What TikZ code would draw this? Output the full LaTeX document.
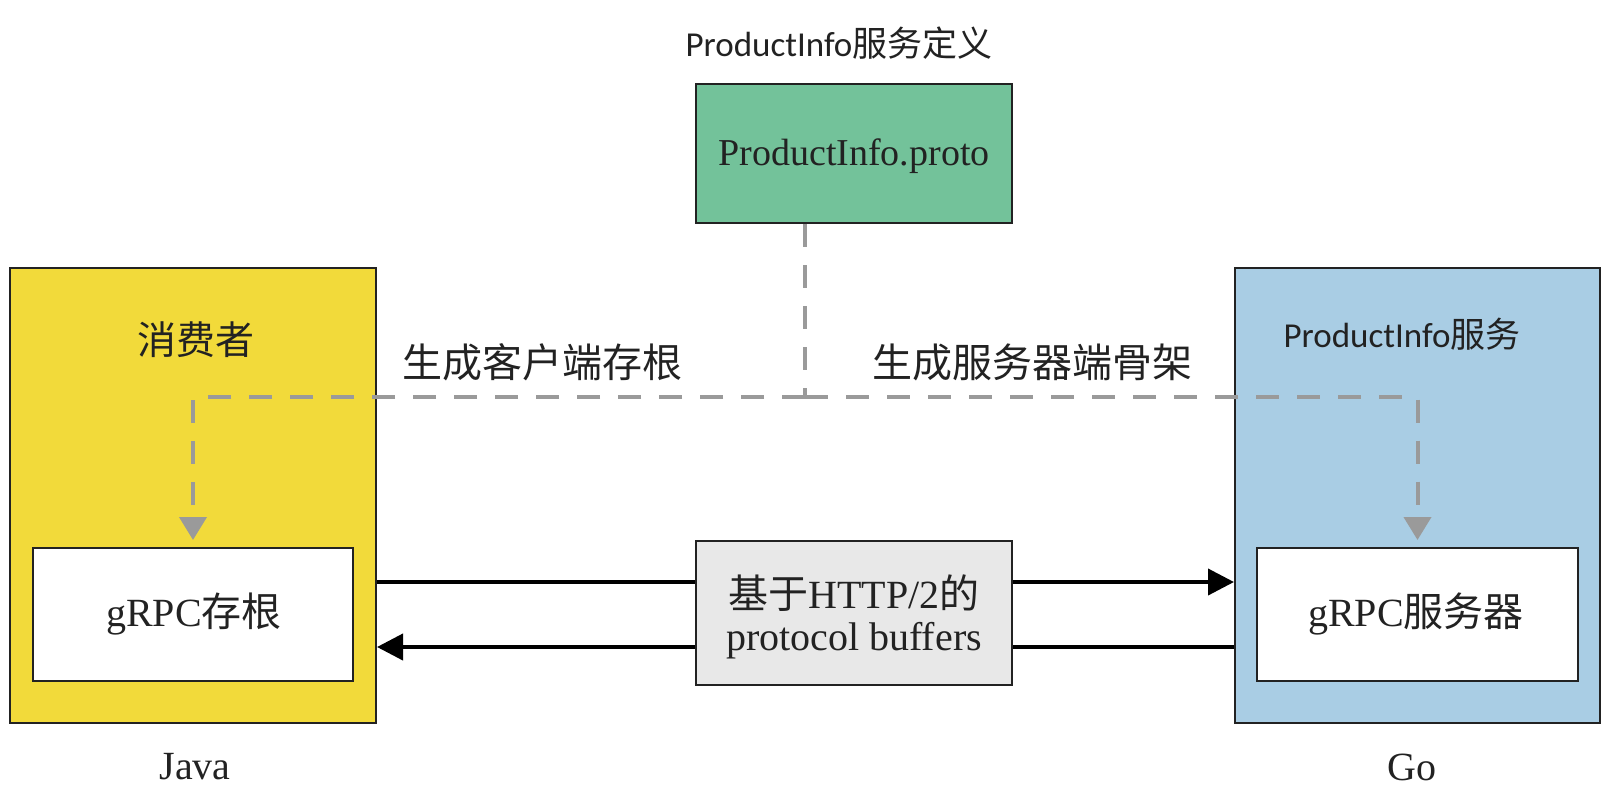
\documentclass[tikz,border=0pt]{standalone}
\usepackage{fontspec}
\setmainfont{Liberation Serif}
\newfontfamily\cjk{Noto Sans CJK SC}
\newfontfamily\calfont{Carlito}
\usetikzlibrary{arrows.meta,backgrounds}
\definecolor{ylw}{HTML}{F2DA3A}
\definecolor{blu}{HTML}{A9CDE4}
\definecolor{grn}{HTML}{73C29A}
\definecolor{gbox}{HTML}{E8E8E8}
\definecolor{dgray}{HTML}{9A9A9A}
\definecolor{ink}{HTML}{222222}
\begin{document}
\begin{tikzpicture}[x=1pt,y=-1pt,
  box/.style={draw=ink, line width=2pt, inner sep=0pt, rectangle},
  txt/.style={inner sep=0pt, text=ink, font=\fontsize{40pt}{42pt}\selectfont},
  sml/.style={txt, font=\fontsize{35pt}{38pt}\selectfont},
  dsh/.style={draw=dgray, line width=4pt, dash pattern=on 23pt off 18pt},
  blk/.style={draw=black, line width=4pt},
  btip/.style={-{Triangle[length=26pt,width=26pt]}},
  gtip/.style={-{Triangle[length=23pt,width=27pt]}}
]
\useasboundingbox (0,0) rectangle (1610,796);
\begin{pgfonlayer}{background}
\fill[white] (0,0) rectangle (1610,796);
\end{pgfonlayer}

% big boxes
\node[box, fill=ylw, minimum width=366pt, minimum height=455pt] (consumer) at (193,495.5) {};
\node[box, fill=blu, minimum width=365pt, minimum height=455pt] (service) at (1417.5,495.5) {};
\node[box, fill=white, minimum width=320pt, minimum height=133pt] (stub) at (193,614.5) {};
\node[box, fill=white, minimum width=321pt, minimum height=133pt] (server) at (1417.5,614.5) {};
\node[box, fill=grn, minimum width=316pt, minimum height=139pt] (proto) at (854,153.5) {};
\node[box, fill=gbox, minimum width=316pt, minimum height=144pt] (mid) at (854,613) {};

% texts
\node[sml] (title) at (839,43) {{\calfont ProductInfo}{\cjk 服务定义}};
\node[txt, font=\fontsize{38pt}{42pt}\selectfont] (protolbl) at (854,156) {ProductInfo.proto};
\node[txt, font=\fontsize{39pt}{42pt}\selectfont] (consumerlbl) at (196,340) {\cjk 消费者};
\node[sml] (servicelbl) at (1402,334) {{\calfont ProductInfo}{\cjk 服务}};
\node[txt] (genclient) at (542,362) {\cjk 生成客户端存根};
\node[txt] (genserver) at (1032,362) {\cjk 生成服务器端骨架};
\node[txt] (stublbl) at (194,614) {gRPC{\cjk 存根}};
\node[txt] (serverlbl) at (1416,614) {gRPC{\cjk 服务器}};
\node[txt, align=center] (midlbl) at (854,617) {{\cjk 基于}HTTP/2{\cjk 的}\\ protocol buffers};
\node[txt] (java) at (195,767) {Java};
\node[txt] (go) at (1412,767) {Go};

% dashed generation paths
\coordinate (J) at (805,397);
\draw[dsh] (J |- proto.south) -- (J);
\draw[dsh, gtip] (J) -| ([yshift=7pt]stub.north);
\draw[dsh, gtip] (J) -| ([yshift=7pt]server.north);

% transport arrows
\begin{pgfonlayer}{background}
\draw[blk, btip] ([yshift=-86.5pt]consumer.east) -- ([yshift=-86.5pt]service.west);
\draw[blk, btip] ([yshift=-151.5pt]service.west) -- ([yshift=-151.5pt]consumer.east);
\end{pgfonlayer}
\end{tikzpicture}
\end{document}
